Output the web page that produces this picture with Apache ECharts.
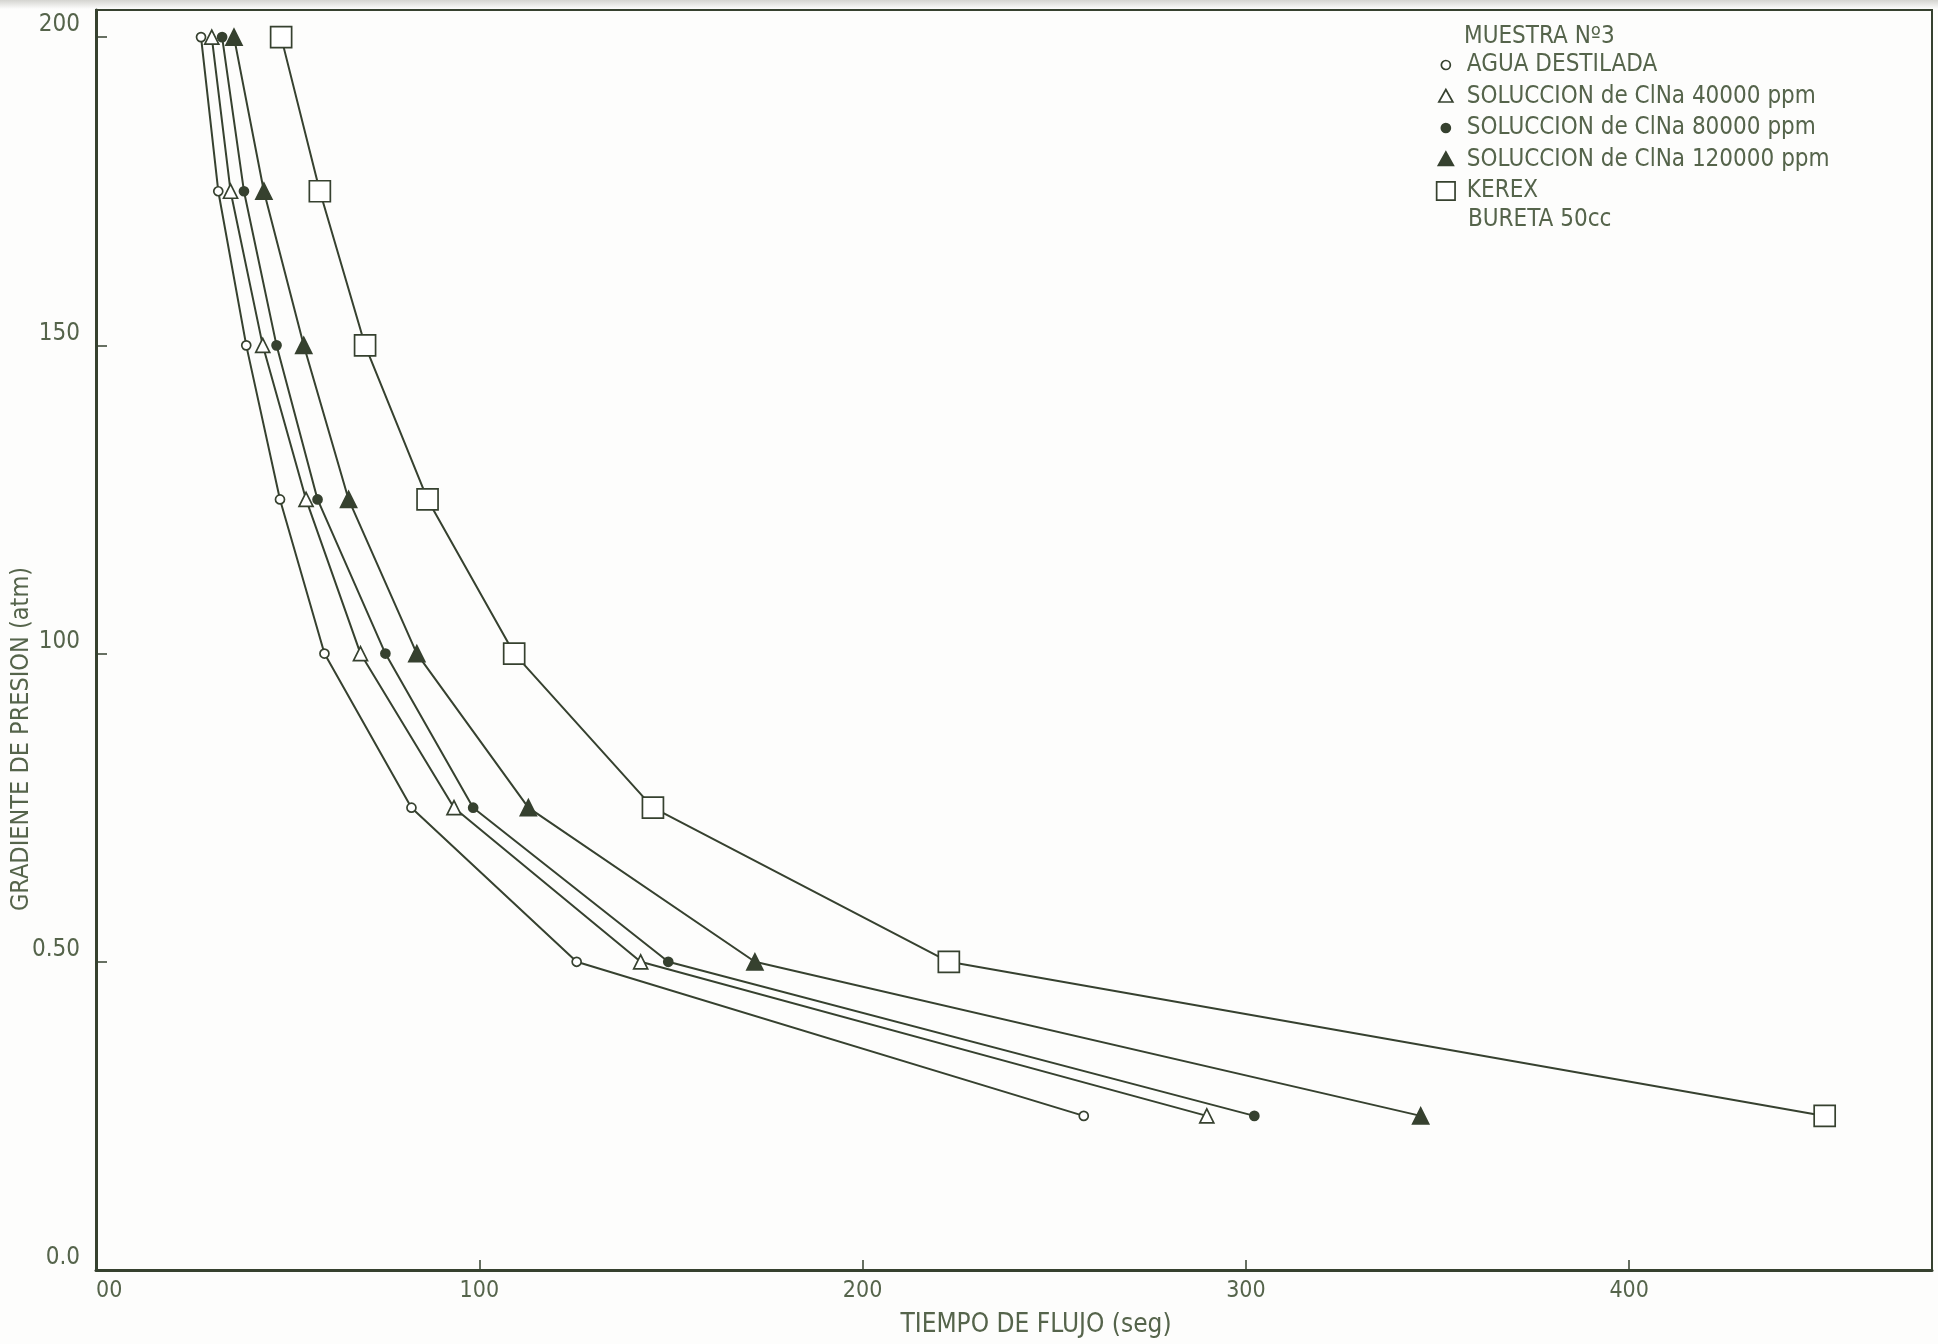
<!DOCTYPE html>
<html>
<head>
<meta charset="utf-8">
<script src="https://cdn.jsdelivr.net/npm/echarts@6/dist/echarts.min.js"></script>
<style>
html,body{margin:0;padding:0;background:#fdfdfc;}
#chart{width:1938px;height:1344px;}
</style>
</head>
<body>
<div id="chart"></div>
<script>
// ---- data ----
const pressureLevels = [200, 175, 150, 125, 100, 75, 50, 25];
const aguaDestilada = [27.4, 31.9, 39.2, 48.0, 59.6, 82.3, 125.4, 257.7];
const clna40000 = [30.2, 35.1, 43.5, 54.8, 69.0, 93.4, 142.1, 289.8];
const clna80000 = [32.9, 38.6, 47.1, 57.8, 75.5, 98.4, 149.3, 302.2];
const clna120000 = [36.0, 43.8, 54.2, 65.9, 83.7, 112.8, 171.9, 345.6];
const kerex = [48.3, 58.4, 70.2, 86.5, 109.1, 145.3, 222.5, 451.0];

const seriesNames = [
  'AGUA DESTILADA',
  'SOLUCCION de ClNa 40000 ppm',
  'SOLUCCION de ClNa 80000 ppm',
  'SOLUCCION de ClNa 120000 ppm',
  'KEREX'
];
const xTickValues = [0, 100, 200, 300, 400];
const xTickLabels = ['00', '100', '200', '300', '400'];
const yTickValues = [0, 50, 100, 150, 200];
const yTickLabels = ['0.0', '0.50', '100', '150', '200'];
const legendTitle = 'MUESTRA Nº3';
const legendNote = 'BURETA 50cc';
const xAxisName = 'TIEMPO DE FLUJO (seg)';
const yAxisName = 'GRADIENTE DE PRESION (atm)';

// ---- styles ----
const ink = '#36412f';
const textInk = '#55644b';
const font = '"DejaVu Sans Condensed", "Liberation Sans Narrow", sans-serif';
const narrowFont = '"Liberation Sans Narrow", "DejaVu Sans Condensed", sans-serif';

const seriesValues = [aguaDestilada, clna40000, clna80000, clna120000, kerex];
const symbolDefs = [
  { symbol: 'circle', size: 9, fill: '#ffffff' },
  { symbol: 'triangle', size: 14, fill: '#ffffff' },
  { symbol: 'circle', size: 9, fill: ink },
  { symbol: 'triangle', size: 16, fill: ink },
  { symbol: 'rect', size: 21, fill: '#ffffff' }
];
const legendIcons = [
  'path://M0,0M20,20M14.5,10A4.5,4.5,0,1,1,5.5,10A4.5,4.5,0,1,1,14.5,10Z',
  'path://M0,0M20,20M10,3L17,15.5L3,15.5Z',
  'path://M0,0M20,20M14.5,10A4.5,4.5,0,1,1,5.5,10A4.5,4.5,0,1,1,14.5,10Z',
  'path://M0,0M20,20M10,2.5L17.5,16L2.5,16Z',
  'path://M0,0M20,20M0.8,0.8L19.2,0.8L19.2,19.2L0.8,19.2Z'
];

const series = seriesNames.map((name, i) => ({
  name: name,
  type: 'line',
  data: pressureLevels.map((p, k) => [seriesValues[i][k], p]),
  symbol: symbolDefs[i].symbol,
  symbolSize: symbolDefs[i].size,
  showAllSymbol: true,
  smooth: false,
  lineStyle: { color: ink, width: 2 },
  itemStyle: { color: symbolDefs[i].fill, borderColor: ink, borderWidth: 1.7 },
  emphasis: { disabled: true },
  z: 3
}));

const chart = echarts.init(document.getElementById('chart'), null, { renderer: 'canvas' });
chart.setOption({
  backgroundColor: '#fdfdfc',
  animation: false,
  grid: {
    left: 96, right: 6, top: 10, bottom: 74,
    containLabel: false,
    outerBoundsMode: 'none',
    show: true, borderColor: ink, borderWidth: 2, backgroundColor: 'transparent'
  },
  xAxis: {
    type: 'value',
    min: 0, max: 479, interval: 100,
    name: xAxisName,
    nameLocation: 'middle',
    nameGap: 42,
    nameMoveOverlap: false,
    nameTextStyle: { fontFamily: font, fontSize: 26, color: textInk, padding: [0, 0, 0, 44] },
    axisLine: { show: true, lineStyle: { color: ink, width: 3 } },
    axisTick: { show: true, inside: true, length: 10, lineStyle: { color: ink, width: 1.5 }, customValues: xTickValues },
    axisLabel: {
      fontFamily: narrowFont, fontSize: 23, color: textInk, margin: 10,
      alignMinLabel: 'left',
      customValues: xTickValues,
      formatter: v => { const k = xTickValues.indexOf(v); return k >= 0 ? xTickLabels[k] : ''; }
    },
    splitLine: { show: false }
  },
  yAxis: {
    type: 'value',
    min: 0, max: 204.4, interval: 50,
    name: yAxisName,
    nameLocation: 'middle',
    nameRotate: 90,
    nameGap: 62,
    nameMoveOverlap: false,
    nameTextStyle: { fontFamily: font, fontSize: 25, color: textInk, padding: [0, 198, 0, 0] },
    axisLine: { show: true, lineStyle: { color: ink, width: 3 } },
    axisTick: { show: true, inside: true, length: 11, lineStyle: { color: ink, width: 1.5 }, customValues: yTickValues },
    axisLabel: {
      fontFamily: font, fontSize: 24, color: textInk, margin: 16,
      verticalAlign: 'bottom',
      customValues: yTickValues,
      formatter: v => { const k = yTickValues.indexOf(v); return k >= 0 ? yTickLabels[k] : ''; }
    },
    splitLine: { show: false }
  },
  legend: {
    show: true,
    orient: 'vertical',
    left: 1430, top: 48,
    itemWidth: 20, itemHeight: 20, itemGap: 7.5,
    selectedMode: false,
    textStyle: { fontFamily: font, fontSize: 24, color: textInk, padding: [0, 0, 0, 6] },
    data: seriesNames.map((n, i) => ({
      name: n,
      icon: legendIcons[i],
      itemStyle: { color: symbolDefs[i].fill, borderColor: ink, borderWidth: 1.7 }
    }))
  },
  graphic: [
    {
      type: 'rect', left: 0, top: 0, z: -10, silent: true,
      shape: { width: 1938, height: 9 },
      style: { fill: new echarts.graphic.LinearGradient(0, 0, 0, 1, [
        { offset: 0, color: '#d4d4d0' }, { offset: 1, color: '#fdfdfc' }
      ]) }
    },
    {
      type: 'text', left: 1464, top: 25, silent: true,
      style: { text: legendTitle, font: '24px ' + font, fill: textInk }
    },
    {
      type: 'text', left: 1468, top: 208, silent: true,
      style: { text: legendNote, font: '24px ' + font, fill: textInk }
    }
  ],
  series: series
});
</script>
</body>
</html>
